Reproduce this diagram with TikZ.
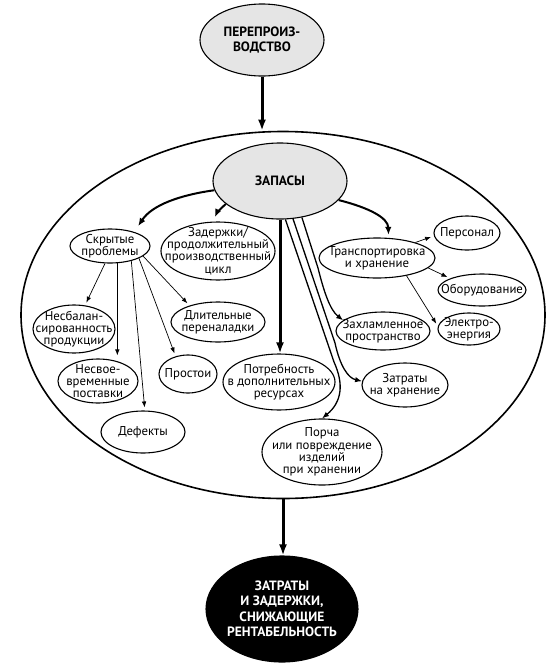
\documentclass[tikz,border=0pt]{standalone}
\usepackage{fontspec}
\setmainfont{PT Sans}
\usetikzlibrary{shapes.geometric,arrows.meta}
\definecolor{lgray}{RGB}{229,229,229}
\begin{document}
\begin{tikzpicture}[x=1pt,y=-1pt,
  ell/.style={draw,ellipse,inner sep=0pt,line width=1.1pt,fill=white},
  lbl/.style={align=center,font=\fontsize{12.8}{12.2}\selectfont,inner sep=0pt},
  blbl/.style={align=center,font=\bfseries\fontsize{13.5}{15.5}\selectfont,inner sep=0pt},
  arrowA/.style={line width=3pt,-{Latex[length=11pt,width=8pt]}},
  arrowB/.style={line width=2pt,-{Latex[length=8pt,width=6.5pt]}},
  arrowD/.style={line width=1.3pt,-{Latex[length=7pt,width=5.5pt]}},
  arrowC/.style={line width=0.7pt,-{Latex[length=6pt,width=4.5pt]},shorten >=3pt}
]
\useasboundingbox (0,0) rectangle (560,670);
% big container
\node[draw,ellipse,inner sep=0pt,line width=1.6pt,minimum width=524pt,minimum height=367pt] (big) at (283,315) {};
% main nodes
\node[ell,fill=lgray,minimum width=124pt,minimum height=72pt] (top) at (262,40) {};
\node[blbl] at (top) {ПЕРЕПРОИЗ-\\ВОДСТВО};
\node[ell,fill=lgray,minimum width=134pt,minimum height=76pt] (zap) at (280,181) {};
\node[blbl] at (zap) {ЗАПАСЫ};
\node[ell,fill=black,minimum width=152pt,minimum height=106pt] (bot) at (282,609) {};
\node[blbl,text=white] at (bot) {ЗАТРАТЫ\\И ЗАДЕРЖКИ,\\СНИЖАЮЩИЕ\\РЕНТАБЕЛЬНОСТЬ};
% inner nodes
\node[ell,minimum width=80pt,minimum height=34pt] (skr) at (110,246) {};
\node[lbl] at (skr) {Скрытые\\проблемы};
\node[ell,minimum width=114pt,minimum height=58pt] (zad) at (218,251) {};
\node[lbl] at (zad) {Задержки/\\продолжительный\\производственный\\цикл};
\node[ell,minimum width=116pt,minimum height=40pt] (trans) at (377,258) {};
\node[lbl] at (trans) {Транспортировка\\и хранение};
\node[ell,minimum width=66pt,minimum height=34pt] (pers) at (467,233) {};
\node[lbl] at (pers) {Персонал};
\node[ell,minimum width=88pt,minimum height=32pt] (obor) at (482,290) {};
\node[lbl] at (obor) {Оборудование};
\node[ell,minimum width=62pt,minimum height=32pt] (elek) at (469,329) {};
\node[lbl] at (elek) {Электро-\\энергия};
\node[ell,minimum width=94pt,minimum height=38pt] (zah) at (383,331) {};
\node[lbl] at (zah) {Захламленное\\пространство};
\node[ell,minimum width=86pt,minimum height=44pt] (zatr) at (405,385) {};
\node[lbl] at (zatr) {Затраты\\на хранение};
\node[ell,minimum width=112pt,minimum height=56pt] (potr) at (279,382) {};
\node[lbl] at (potr) {Потребность\\в дополнительных\\ресурсах};
\node[ell,minimum width=120pt,minimum height=66pt] (porch) at (322,452) {};
\node[lbl] at (porch) {Порча\\или повреждение\\изделий\\при хранении};
\node[ell,minimum width=82pt,minimum height=48pt] (nesb) at (74,329) {};
\node[lbl] at (nesb) {Несбалан-\\сированность\\продукции};
\node[ell,minimum width=80pt,minimum height=44pt] (nesv) at (98,381) {};
\node[lbl] at (nesv) {Несвое-\\временные\\поставки};
\node[ell,minimum width=58pt,minimum height=38pt] (prost) at (188,374) {};
\node[lbl] at (prost) {Простои};
\node[ell,minimum width=84pt,minimum height=42pt] (def) at (143,432) {};
\node[lbl] at (def) {Дефекты};
\node[ell,minimum width=94pt,minimum height=40pt] (dlit) at (218,322) {};
\node[lbl] at (dlit) {Длительные\\переналадки};
% thick connectors
\draw[arrowA] (top.south) -- (top.south |- big.north);
\draw[arrowA] (big.south) -- (big.south |- bot.north);
\draw[arrowA] (zap.south) -- (zap.south |- potr.north);
% curved connectors from ЗАПАСЫ
\draw[arrowB,shorten >=7pt] (zap.188) .. controls (180,195) and (152,205) .. (skr.30);
\draw[arrowB,shorten >=5pt] (zap.203) to[bend right=12] (zad.100);
\draw[arrowB,shorten >=3pt] (zap.342) .. controls (370,208) and (388,218) .. (trans.60);
% three lines
\draw[arrowD] (zap.301) -- (318,268) .. controls (324,292) and (330,310) .. (zah.165);
\draw[arrowD] (zap.289) -- (335,343) .. controls (340,366) and (348,378) .. (zatr.175);
\draw[arrowD] (zap.278) -- (334,362) .. controls (344,384) and (342,402) .. (porch.north);
% from Скрытые проблемы
\draw[arrowC] (skr.254) -- (nesb.65);
\draw[arrowC] (skr.293) -- (skr.293 |- nesv.north);
\draw[arrowC] (skr.325) -- (def.85);
\draw[arrowC] (skr.337) -- (prost.125);
\draw[arrowC] (skr.343) -- (dlit.150);
% from Транспортировка
\draw[arrowC] (trans.22) -- (pers.185);
\draw[arrowC] (trans.349) -- (obor.160);
\draw[arrowC] (trans.329) -- (elek.175);
\end{tikzpicture}
\end{document}
